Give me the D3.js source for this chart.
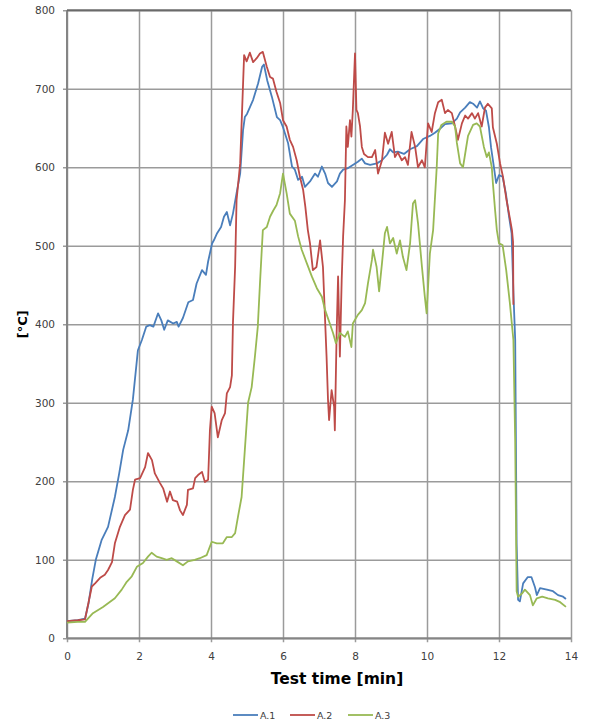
<!DOCTYPE html>
<html>
<head>
<meta charset="utf-8">
<script src="https://cdn.jsdelivr.net/npm/d3@7/dist/d3.min.js"></script>
<style>
  html, body { margin: 0; padding: 0; background: #fff; }
  svg { display: block; }
  .tick text { font-family: "DejaVu Sans", Verdana, sans-serif; font-size: 10.5px; fill: #404040; }
</style>
</head>
<body>
<svg id="chart" width="596" height="725"></svg>
<script>
// Temperature curves of three thermocouples, A.1 – A.3
const seriesNames = ["A.1", "A.2", "A.3"];
const seriesColors = ["#4a7ebb", "#be4b48", "#98b954"];

const xTicks = [0, 2, 4, 6, 8, 10, 12, 14];
const yTicks = [0, 100, 200, 300, 400, 500, 600, 700, 800];

const a1Time = [0,0.3,0.5,0.6,0.7,0.8,0.96,1.14,1.33,1.45,1.56,1.7,1.83,1.97,2.08,2.2,2.3,2.4,2.53,2.62,2.7,2.8,2.95,3.05,3.1,3.22,3.37,3.5,3.6,3.75,3.86,3.92,4.03,4.08,4.17,4.28,4.36,4.44,4.53,4.61,4.71,4.81,4.89,4.94,5.0,5.17,5.31,5.42,5.47,5.56,5.69,5.83,5.92,6.0,6.14,6.25,6.33,6.42,6.53,6.61,6.75,6.89,6.97,7.08,7.17,7.25,7.36,7.5,7.58,7.67,7.81,7.94,8.08,8.19,8.28,8.42,8.61,8.75,8.89,8.97,9.06,9.19,9.36,9.53,9.72,9.89,10.08,10.22,10.36,10.5,10.69,10.83,10.92,11.06,11.19,11.28,11.39,11.47,11.56,11.64,11.72,11.78,11.86,11.92,12.0,12.1,12.19,12.28,12.35,12.4,12.45,12.49,12.53,12.58,12.67,12.8,12.9,13.0,13.05,13.14,13.33,13.5,13.64,13.78,13.86];
const a1Temp = [22,23,25,45,75,100,125,142,180,210,240,265,304,367,380,397,399,397,414,405,393,405,401,403,397,408,428,431,452,469,463,480,503,507,516,524,537,543,526,541,567,592,647,664,668,686,707,728,731,711,690,664,660,651,631,601,597,584,588,575,582,592,588,601,592,580,575,582,592,597,599,603,607,611,605,603,605,609,616,623,619,620,617,623,627,636,640,644,649,655,656,662,670,676,683,681,676,684,675,672,651,625,600,580,590,588,567,537,516,440,380,120,49,47,70,78,78,65,55,64,62,60,55,53,50];

const a2Time = [0,0.3,0.5,0.69,0.78,0.92,1.05,1.14,1.25,1.33,1.47,1.61,1.75,1.83,1.89,2.03,2.17,2.25,2.36,2.44,2.58,2.67,2.78,2.86,2.94,3.06,3.14,3.22,3.33,3.36,3.5,3.56,3.64,3.75,3.83,3.92,3.97,4.02,4.1,4.19,4.3,4.39,4.44,4.53,4.58,4.61,4.67,4.71,4.81,4.92,4.99,5.08,5.17,5.27,5.36,5.44,5.55,5.64,5.72,5.82,5.92,6.0,6.1,6.19,6.28,6.38,6.47,6.56,6.62,6.69,6.75,6.83,6.93,7.03,7.11,7.21,7.25,7.28,7.35,7.42,7.44,7.49,7.53,7.58,7.63,7.67,7.72,7.76,7.8,7.86,7.9,7.94,8.0,8.04,8.08,8.14,8.19,8.25,8.36,8.47,8.56,8.64,8.75,8.83,8.92,9.02,9.11,9.19,9.3,9.39,9.47,9.57,9.67,9.75,9.86,9.94,10.03,10.13,10.22,10.31,10.41,10.5,10.58,10.69,10.78,10.86,10.97,11.06,11.14,11.25,11.33,11.42,11.52,11.61,11.69,11.8,11.83,11.94,12.03,12.11,12.21,12.31,12.36,12.39,12.4];
const a2Temp = [22,23,24,66,70,77,81,87,97,121,142,157,164,189,202,204,218,236,227,210,198,191,174,187,176,174,163,157,170,189,191,204,208,212,199,202,265,295,287,256,278,287,312,320,335,402,473,558,605,743,735,746,734,739,745,747,728,715,713,696,682,660,652,635,626,609,588,571,550,520,503,469,473,507,473,359,304,278,316,295,265,389,461,359,456,512,558,652,626,660,639,673,745,673,669,652,626,617,613,613,622,592,609,644,630,645,613,619,609,613,603,645,626,600,609,600,656,645,669,683,686,669,673,669,652,635,656,666,662,669,662,669,652,676,681,675,651,630,605,588,558,533,520,505,425];

const a3Time = [0,0.3,0.5,0.72,1.0,1.33,1.52,1.66,1.8,1.94,2.11,2.25,2.35,2.49,2.63,2.77,2.91,3.05,3.22,3.36,3.55,3.69,3.88,4.02,4.16,4.33,4.44,4.58,4.67,4.75,4.85,4.94,5.03,5.13,5.22,5.3,5.36,5.44,5.55,5.64,5.73,5.82,5.92,6.0,6.1,6.19,6.33,6.42,6.52,6.66,6.8,6.94,7.08,7.17,7.3,7.39,7.47,7.58,7.72,7.8,7.9,7.94,8.08,8.19,8.28,8.36,8.47,8.5,8.6,8.67,8.75,8.83,8.89,8.97,9.06,9.16,9.25,9.33,9.43,9.53,9.61,9.67,9.75,9.86,9.94,9.99,10.08,10.17,10.27,10.31,10.4,10.54,10.69,10.78,10.83,10.92,11.0,11.08,11.14,11.28,11.38,11.47,11.58,11.66,11.72,11.8,11.83,11.89,11.94,12.0,12.1,12.2,12.3,12.4,12.45,12.49,12.53,12.64,12.72,12.86,12.94,13.05,13.2,13.36,13.56,13.7,13.86];
const a3Temp = [20,21,21,32,40,51,62,72,79,91,96,104,109,104,102,100,102,98,93,98,100,102,106,123,121,121,129,129,134,155,180,240,300,320,359,397,452,520,524,537,545,552,567,592,567,541,532,512,495,478,461,446,435,418,401,389,376,389,384,391,371,401,412,418,427,452,482,495,473,442,478,516,524,503,510,490,507,486,469,503,554,558,529,473,435,414,490,520,600,643,654,658,658,652,631,605,600,623,640,654,656,652,626,613,619,600,580,546,520,503,501,469,428,380,250,60,53,57,62,55,42,51,53,51,49,46,40];

const seriesTimes = [a1Time, a2Time, a3Time];
const seriesTemps = [a1Temp, a2Temp, a3Temp];

const margin = { left: 67, right: 25, top: 10.3, bottom: 86.7 };
const W = 596, H = 725;
const plotW = W - margin.left - margin.right;
const plotH = H - margin.top - margin.bottom;

const svg = d3.select("#chart");
const g = svg.append("g").attr("transform", `translate(${margin.left},${margin.top})`);

const x = d3.scaleLinear().domain([0, 14]).range([0, plotW]);
const y = d3.scaleLinear().domain([0, 800]).range([plotH, 0]);

// Horizontal gridlines (with short outer ticks on the left)
const yGrid = g.append("g")
  .call(d3.axisLeft(y).tickValues(yTicks).tickSize(-plotW).tickSizeOuter(0).tickFormat(""));
yGrid.select(".domain").remove();
yGrid.selectAll("line").attr("stroke", "#9b9b9b").attr("stroke-width", 1.5)
  .attr("x1", -4);

// Vertical gridlines extending slightly below the plot
const xGrid = g.append("g").attr("transform", `translate(0,${plotH})`)
  .call(d3.axisBottom(x).tickValues(xTicks).tickSize(-plotH).tickSizeOuter(0).tickFormat(""));
xGrid.select(".domain").remove();
xGrid.selectAll("line").attr("stroke", "#9b9b9b").attr("stroke-width", 1.5)
  .attr("y1", 4);

// Axis labels
const yAxis = g.append("g")
  .call(d3.axisLeft(y).tickValues(yTicks).tickSize(0).tickPadding(12).tickFormat(d3.format("d")));
yAxis.select(".domain").remove();

const xAxis = g.append("g").attr("transform", `translate(0,${plotH})`)
  .call(d3.axisBottom(x).tickValues(xTicks).tickSize(0).tickPadding(14).tickFormat(d3.format("d")));
xAxis.select(".domain").remove();

// Frame lines: left axis, bottom axis, top border
g.append("line").attr("x1", 0).attr("x2", 0).attr("y1", 0).attr("y2", plotH)
  .attr("stroke", "#858585").attr("stroke-width", 2);
g.append("line").attr("x1", 0).attr("x2", plotW).attr("y1", plotH).attr("y2", plotH)
  .attr("stroke", "#858585").attr("stroke-width", 2);
g.append("line").attr("x1", 0).attr("x2", plotW).attr("y1", 0).attr("y2", 0)
  .attr("stroke", "#6a6a6a").attr("stroke-width", 2);

// Series lines
const line = d3.line()
  .x(d => x(d[0]))
  .y(d => y(d[1]));

seriesNames.forEach((name, i) => {
  const pts = seriesTimes[i].map((t, k) => [t, seriesTemps[i][k]]);
  g.append("path")
    .datum(pts)
    .attr("fill", "none")
    .attr("stroke", seriesColors[i])
    .attr("stroke-width", 1.8)
    .attr("stroke-linejoin", "round")
    .attr("d", line);
});

// Axis titles
svg.append("text")
  .attr("x", 337)
  .attr("y", 684)
  .attr("text-anchor", "middle")
  .attr("font-family", "'DejaVu Sans', Verdana, sans-serif")
  .attr("font-weight", "bold")
  .attr("font-size", 15.5)
  .attr("fill", "#000")
  .text("Test time [min]");

svg.append("text")
  .attr("transform", `translate(27,${margin.top + plotH / 2}) rotate(-90)`)
  .attr("text-anchor", "middle")
  .attr("font-family", "'DejaVu Sans', Verdana, sans-serif")
  .attr("font-weight", "bold")
  .attr("font-size", 13)
  .attr("fill", "#000")
  .text("[°C]");

// Legend
const legendX = [233, 290, 348];
const legend = svg.append("g");
seriesNames.forEach((name, i) => {
  const lg = legend.append("g").attr("transform", `translate(${legendX[i]},715)`);
  lg.append("line").attr("x1", 0).attr("x2", 25).attr("y1", 0).attr("y2", 0)
    .attr("stroke", seriesColors[i]).attr("stroke-width", 1.8);
  lg.append("text").attr("x", 27).attr("y", 3.5)
    .attr("font-family", "'DejaVu Sans', Verdana, sans-serif")
    .attr("font-size", 9.5)
    .attr("fill", "#404040")
    .text(name);
});
</script>
</body>
</html>
